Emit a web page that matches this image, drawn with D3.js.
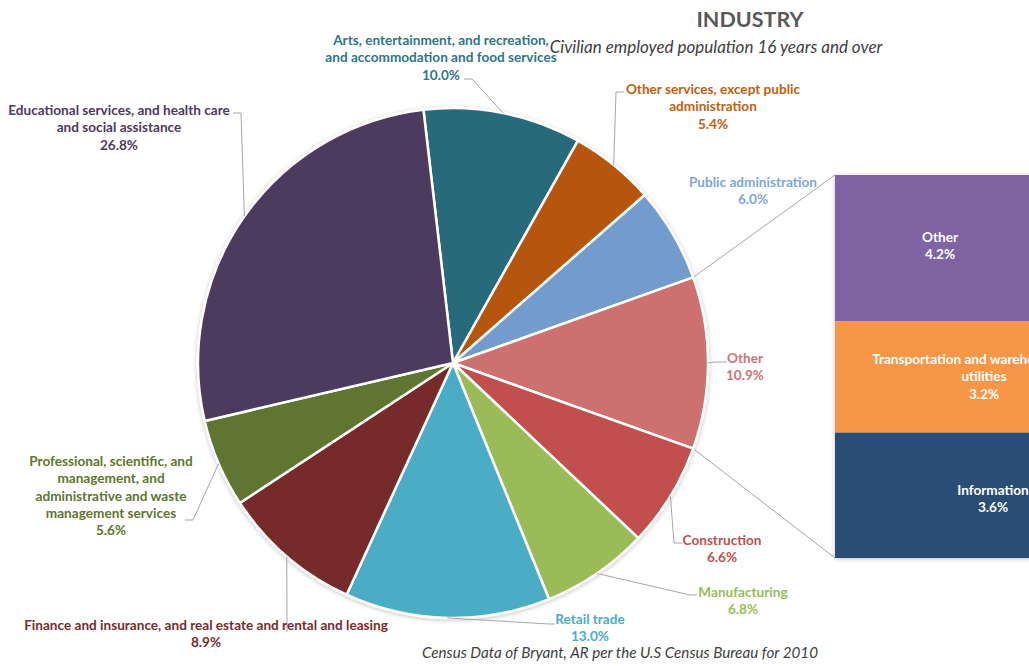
<!DOCTYPE html>
<html>
<head>
<meta charset="utf-8">
<script src="https://cdn.jsdelivr.net/npm/d3@7"></script>
<style>
  body { margin: 0; background: #fff; overflow: hidden; }
  svg { display: block; font-family: Lato, "Open Sans", sans-serif; }
</style>
</head>
<body>
<svg id="chart" width="1029" height="666"></svg>
<script>
// Industry of the civilian employed population (16 years and over), percent
const categories = [
  "Arts, entertainment, and recreation, and accommodation and food services",
  "Other services, except public administration",
  "Public administration",
  "Other",
  "Construction",
  "Manufacturing",
  "Retail trade",
  "Finance and insurance, and real estate and rental and leasing",
  "Professional, scientific, and management, and administrative and waste management services",
  "Educational services, and health care and social assistance"
];
const values = [10.0, 5.4, 6.0, 10.9, 6.6, 6.8, 13.0, 8.9, 5.6, 26.8];
const sliceColors = ["#266B7C", "#B6550A", "#729BCE", "#CD7170", "#C0504D",
                     "#9BBB59", "#4BACC6", "#772C2A", "#5F7530", "#4D3A5E"];
const labelColors = ["#2E7588", "#C0600F", "#7EA6D6", "#D07473", "#C0504D",
                     "#9BBB59", "#4BACC6", "#772C2A", "#5F7530", "#4D3A5E"];

// Breakdown of the "Other" slice
const barCategories = ["Other", "Transportation and warehousing, and utilities", "Information"];
const barValues = [4.2, 3.2, 3.6];
const barColors = ["#8064A2", "#F79646", "#2C4D75"];

const titleText = "INDUSTRY";
const subtitleText = "Civilian employed population 16 years and over";
const sourceText = "Census Data of Bryant, AR per the U.S Census Bureau for 2010";

// Label placement: words per line, centre x, first baseline, leader bend points
const labelLayout = [
  { wrap: [4, 5], x: 441, y: 45, leader: [[472, 79], [464, 79]] },
  { wrap: [4, 1], x: 713, y: 94, leader: [[616, 92], [624, 92]] },
  { wrap: [2], x: 753, y: 187, leader: null },
  { wrap: [1], x: 745, y: 363, leader: [[715, 362], [727, 362]] },
  { wrap: [1], x: 722, y: 545, leader: [[674, 543], [682, 543]] },
  { wrap: [1], x: 743, y: 597, leader: [[690, 595], [697, 595]] },
  { wrap: [2], x: 590, y: 624, leader: [[549, 624], [555, 624]] },
  { wrap: [10], x: 206, y: 630, leader: [[287, 632]] },
  { wrap: [3, 2, 3, 2], x: 111, y: 466, leader: [[193, 520], [185, 520]] },
  { wrap: [5, 3], x: 119, y: 115, leader: [[241, 113], [233, 113]] }
];
const barLabelLayout = [
  { wrap: [1], x: 940, y: 242 },
  { wrap: [4, 1], x: 984, y: 364 },
  { wrap: [1], x: 993, y: 495 }
];

const W = 1029, H = 666;
const cx = 453, cy = 363, R = 255;
const lineH = 17.3;
const labelSize = 13.6;
const fmt = v => d3.format(".1f")(v) + "%";

function wrapWords(text, counts) {
  const words = text.split(" ");
  const lines = [];
  let i = 0;
  counts.forEach(n => { lines.push(words.slice(i, i + n).join(" ")); i += n; });
  if (i < words.length) lines[lines.length - 1] += " " + words.slice(i).join(" ");
  return lines;
}

const svg = d3.select("#chart");
const defs = svg.append("defs");
const shadow = defs.append("filter").attr("id", "soft-shadow")
  .attr("x", "-10%").attr("y", "-10%").attr("width", "120%").attr("height", "120%");
shadow.append("feDropShadow").attr("dx", 0).attr("dy", 1)
  .attr("stdDeviation", 2).attr("flood-color", "#000").attr("flood-opacity", 0.25);

// Rotate the pie so the "Other" slice faces the bar on the right
const total = d3.sum(values);
const otherIdx = categories.indexOf("Other");
const before = d3.sum(values.slice(0, otherIdx));
const start = Math.PI / 2 - 2 * Math.PI * (before + values[otherIdx] / 2) / total;

const pie = d3.pie().sort(null).value(d => d)
  .startAngle(start).endAngle(start + 2 * Math.PI);
const arcs = pie(values);
const arc = d3.arc().innerRadius(0).outerRadius(R);
const edgePoint = a => [cx + R * Math.sin(a), cy - R * Math.cos(a)];

// Bar of the "Other" breakdown
const barX = 835, barW = 215, barTop = 175, barBottom = 558;
const barScale = d3.scaleLinear().domain([0, d3.sum(barValues)]).range([barTop, barBottom]);
const barCum = d3.cumsum([0, ...barValues]);

// Connector lines from the "Other" slice to the bar
const oArc = arcs[otherIdx];
const connG = svg.append("g").attr("stroke", "#A6A6A6").attr("stroke-width", 1).attr("fill", "none");
connG.append("line")
  .attr("x1", edgePoint(oArc.startAngle)[0]).attr("y1", edgePoint(oArc.startAngle)[1])
  .attr("x2", barX).attr("y2", barScale(0));
connG.append("line")
  .attr("x1", edgePoint(oArc.endAngle)[0]).attr("y1", edgePoint(oArc.endAngle)[1])
  .attr("x2", barX).attr("y2", barScale(d3.sum(barValues)));

// Pie slices
svg.append("g")
  .attr("transform", `translate(${cx},${cy})`)
  .attr("filter", "url(#soft-shadow)")
  .selectAll("path").data(arcs).join("path")
  .attr("d", arc)
  .attr("fill", (d, i) => sliceColors[i])
  .attr("stroke", "#fff").attr("stroke-width", 2.5).attr("stroke-linejoin", "round");

// Bar segments
svg.append("g").attr("filter", "url(#soft-shadow)")
  .selectAll("rect").data(barValues).join("rect")
  .attr("x", barX).attr("width", barW)
  .attr("y", (d, i) => barScale(barCum[i]))
  .attr("height", d => barScale(d) - barScale(0))
  .attr("fill", (d, i) => barColors[i]);

// Leader lines
const leaderG = svg.append("g").attr("stroke", "#A6A6A6").attr("stroke-width", 1).attr("fill", "none");
arcs.forEach((a, i) => {
  const L = labelLayout[i];
  if (!L.leader) return;
  const mid = (a.startAngle + a.endAngle) / 2;
  leaderG.append("path").attr("d", d3.line()([edgePoint(mid), ...L.leader]));
});

// Data labels on the pie
const labelG = svg.append("g").attr("font-weight", 700).attr("font-size", labelSize).attr("text-anchor", "middle");
categories.forEach((c, i) => {
  const L = labelLayout[i];
  const lines = [...wrapWords(c, L.wrap), fmt(values[i])];
  const t = labelG.append("text").attr("fill", labelColors[i]);
  lines.forEach((s, k) => t.append("tspan").attr("x", L.x).attr("y", L.y + k * lineH).text(s));
});

// Data labels on the bar
const barLabelG = svg.append("g").attr("font-weight", 700).attr("font-size", labelSize)
  .attr("text-anchor", "middle").attr("fill", "#fff");
barCategories.forEach((c, i) => {
  const L = barLabelLayout[i];
  const lines = [...wrapWords(c, L.wrap), fmt(barValues[i])];
  const t = barLabelG.append("text");
  lines.forEach((s, k) => t.append("tspan").attr("x", L.x).attr("y", L.y + k * lineH).text(s));
});

// Titles
svg.append("text").attr("x", 750).attr("y", 27).attr("text-anchor", "middle")
  .attr("font-size", 21.5).attr("font-weight", 700).attr("fill", "#595959").text(titleText);
svg.append("text").attr("x", 716).attr("y", 53).attr("text-anchor", "middle")
  .attr("font-size", 17).attr("font-style", "italic").attr("fill", "#404040").text(subtitleText);
svg.append("text").attr("x", 620).attr("y", 658).attr("text-anchor", "middle")
  .attr("font-size", 15.2).attr("font-style", "italic").attr("fill", "#404040").text(sourceText);
</script>
</body>
</html>
